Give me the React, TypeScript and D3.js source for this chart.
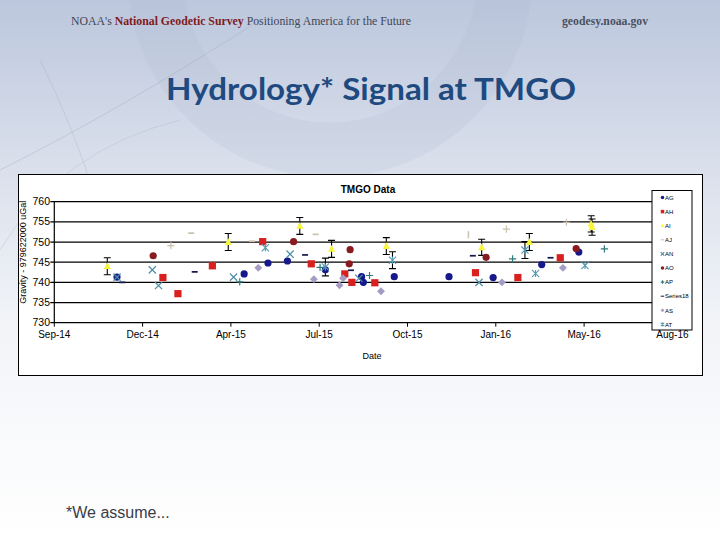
import React from 'react';
import * as d3 from 'd3';

const W = 720;
const H = 540;

// series in legend order (the Excel legend only shows the first ten)
const legendNames = ['AG', 'AH', 'AI', 'AJ', 'AN', 'AO', 'AP', 'Series18', 'AS', 'AT'];

const AG: [string, number][] = [
  ['2014-11-25', 741.3], ['2015-04-18', 742.1], ['2015-05-15', 744.8], ['2015-06-06', 745.3],
  ['2015-07-19', 743.1], ['2015-08-29', 741.4], ['2015-08-31', 740.0], ['2015-10-05', 741.4],
  ['2015-12-06', 741.4], ['2016-01-25', 741.2], ['2016-03-20', 744.4], ['2016-05-01', 747.5],
];
const AH: [string, number][] = [
  ['2015-01-16', 741.2], ['2015-02-02', 737.2], ['2015-03-13', 744.1], ['2015-05-09', 750.1],
  ['2015-07-03', 744.6], ['2015-08-10', 742.1], ['2015-08-18', 740.0], ['2015-09-13', 739.9],
  ['2016-01-05', 742.4], ['2016-02-22', 741.2], ['2016-04-10', 746.1],
];
const AI: [string, number][] = [
  ['2014-11-14', 744.0], ['2015-03-31', 750.0], ['2015-06-20', 754.0], ['2015-07-26', 748.3],
  ['2015-09-26', 749.0], ['2016-01-12', 748.7], ['2016-03-06', 750.0], ['2016-05-15', 754.5],
  ['2016-05-16', 753.7],
];
const AIerr = [2.1, 2.1, 2.1, 2.1, 2.1, 2.0, 2.1, 2.0, 2.0];
const AJ: [string, number][] = [['2015-02-17', 752.2], ['2015-04-27', 750.2], ['2015-07-08', 751.9]];
const AN: [string, number][] = [
  ['2014-11-25', 741.3], ['2015-01-04', 743.1], ['2015-01-11', 739.2], ['2015-04-06', 741.3],
  ['2015-06-09', 747.0], ['2015-08-26', 741.0], ['2016-01-09', 740.0],
];
const AO: [string, number][] = [
  ['2015-01-05', 746.6], ['2015-06-13', 750.1], ['2015-08-15', 744.6], ['2015-08-16', 748.1],
  ['2016-01-17', 746.2], ['2016-04-28', 748.4],
];
const AP: [string, number][] = [
  ['2015-04-13', 740.1], ['2015-07-13', 743.7], ['2015-09-07', 741.7], ['2016-02-16', 745.8],
  ['2016-05-30', 748.3],
];
const S18: [string, number][] = [
  ['2014-12-01', 740.0], ['2015-02-21', 742.6], ['2015-06-26', 746.8], ['2015-08-17', 743.0],
  ['2016-01-02', 746.6], ['2016-03-30', 746.1],
];
const AS: [string, number][] = [
  ['2015-05-04', 743.6], ['2015-07-06', 740.8], ['2015-08-04', 739.3], ['2015-08-08', 741.0],
  ['2015-09-20', 737.8], ['2016-02-04', 740.0], ['2016-04-13', 743.6],
];
const AT: [string, number][] = [
  ['2015-05-12', 748.6], ['2015-07-19', 743.8], ['2015-10-03', 745.5], ['2016-03-01', 748.0],
  ['2016-03-13', 742.2], ['2016-05-08', 744.2],
];
const ATerr = [0, 2.2, 2.1, 2.1, 0, 0];
// series that did not fit in the legend
const AU: [string, number][] = [['2015-01-25', 749.1], ['2016-02-09', 753.2], ['2016-04-17', 754.9]];
const AV: [string, number][] = [['2015-12-28', 751.8]];

const yTicks = [730, 735, 740, 745, 750, 755, 760];
const axisStart = '2014-09-15';
const tickStepDays = 100;
const tickCount = 8;

type Shape = 'circle' | 'square' | 'triangle' | 'diamond' | 'x' | 'plus' | 'dash' | 'star' | 'vbar';

const series: { name: string; data: [string, number][]; err?: number[]; shape: Shape; color: string }[] = [
  { name: 'AG', data: AG, shape: 'circle', color: '#16198a' },
  { name: 'AH', data: AH, shape: 'square', color: '#d8201f' },
  { name: 'AI', data: AI, err: AIerr, shape: 'triangle', color: '#f6f63c' },
  { name: 'AJ', data: AJ, shape: 'dash', color: '#c9c0ae' },
  { name: 'AN', data: AN, shape: 'x', color: '#4d8ea6' },
  { name: 'AO', data: AO, shape: 'circle', color: '#881a20' },
  { name: 'AP', data: AP, shape: 'plus', color: '#2e7b7c' },
  { name: 'Series18', data: S18, shape: 'dash', color: '#14184e' },
  { name: 'AS', data: AS, shape: 'diamond', color: '#a59cc3' },
  { name: 'AT', data: AT, err: ATerr, shape: 'star', color: '#5599b0' },
  { name: 'AU', data: AU, shape: 'plus', color: '#c9c0ae' },
  { name: 'AV', data: AV, shape: 'vbar', color: '#c9c0ae' },
];

const parse = d3.timeParse('%Y-%m-%d');
const fmt = d3.timeFormat('%b-%y');

function Marker({ shape, color, x, y, s }: { shape: Shape; color: string; x: number; y: number; s: number }) {
  const h = s / 2;
  switch (shape) {
    case 'circle':
      return <circle cx={x} cy={y} r={h} fill={color} />;
    case 'square':
      return <rect x={x - h} y={y - h} width={s} height={s} fill={color} />;
    case 'triangle':
      return <path d={`M${x},${y - h * 1.1}L${x + h},${y + h * 0.8}L${x - h},${y + h * 0.8}Z`} fill={color} />;
    case 'diamond':
      return <path d={`M${x},${y - h * 1.1}L${x + h * 1.1},${y}L${x},${y + h * 1.1}L${x - h * 1.1},${y}Z`} fill={color} />;
    case 'x':
      return <path d={`M${x - h},${y - h}L${x + h},${y + h}M${x - h},${y + h}L${x + h},${y - h}`} stroke={color} strokeWidth={1.2} />;
    case 'plus':
      return <path d={`M${x - h},${y}L${x + h},${y}M${x},${y - h}L${x},${y + h}`} stroke={color} strokeWidth={1.2} />;
    case 'dash':
      return <path d={`M${x - h},${y}L${x + h},${y}`} stroke={color} strokeWidth={Math.max(1, s / 3.5)} />;
    case 'star':
      return (
        <path
          d={`M${x - h},${y - h}L${x + h},${y + h}M${x - h},${y + h}L${x + h},${y - h}M${x},${y - h}L${x},${y + h}`}
          stroke={color}
          strokeWidth={1.1}
        />
      );
    case 'vbar':
      return <path d={`M${x},${y - h}L${x},${y + h}`} stroke={color} strokeWidth={1.5} />;
  }
  return null;
}

export default function App() {
  const start = parse(axisStart) as Date;
  const xTickValues = d3.range(tickCount).map((i) => d3.timeDay.offset(start, i * tickStepDays));
  const x = d3.scaleTime().domain([xTickValues[0], xTickValues[tickCount - 1]]).range([54.3, 672.4]);
  const y = d3.scaleLinear().domain([730, 760]).range([322.7, 201.7]);
  const [x0, x1] = x.range();

  const legX = 652;
  const legY = 190.5;
  const legStep = 14.1;

  return (
    <svg width={W} height={H} style={{ position: 'fixed', left: 0, top: 0, display: 'block' }}>
      <defs>
        <linearGradient id="bg" x1="0" y1="0" x2="0" y2="1">
          <stop offset="0" stopColor="#bcc7dd" />
          <stop offset="0.3" stopColor="#d9dfeb" />
          <stop offset="0.6" stopColor="#f2f4f8" />
          <stop offset="1" stopColor="#ffffff" />
        </linearGradient>
      </defs>
      <rect width={W} height={H} fill="url(#bg)" />
      {/* faint logo swirl behind the title */}
      <circle cx={330} cy={-25} r={175} fill="none" stroke="#aab5cf" strokeWidth={55} opacity={0.16} />
      <path d="M0,170 Q120,110 260,20" fill="none" stroke="#8f9ab0" strokeWidth={0.6} opacity={0.5} />
      <path d="M40,60 Q110,200 120,330" fill="none" stroke="#8f9ab0" strokeWidth={0.6} opacity={0.4} />
      <path d="M0,250 Q60,150 180,120" fill="none" stroke="#9aa4b8" strokeWidth={0.6} opacity={0.4} />

      <text x={71} y={25} fontFamily="Liberation Serif, serif" fontSize={12.5} textLength={340} lengthAdjust="spacingAndGlyphs" fill="#3f4656">
        NOAA's <tspan fill="#7f1b1b" fontWeight="bold">National Geodetic Survey</tspan> Positioning America for the Future
      </text>
      <text x={562} y={25} fontFamily="Liberation Serif, serif" fontSize={12.5} fontWeight="bold" textLength={86} lengthAdjust="spacingAndGlyphs" fill="#4a5060">
        geodesy.noaa.gov
      </text>
      <text x={371} y={100} textAnchor="middle" fontFamily="Lato, sans-serif" fontWeight="bold" fontSize={30} textLength={410} lengthAdjust="spacingAndGlyphs" fill="#1f4a80">
        Hydrology* Signal at TMGO
      </text>

      {/* chart frame */}
      <rect x={18.5} y={174.5} width={684} height={201} fill="#ffffff" stroke="#000" strokeWidth={1} />
      <g fontFamily="Liberation Sans, Arial, sans-serif" fill="#000">
        <text x={368} y={193} textAnchor="middle" fontSize={10} fontWeight="bold">TMGO Data</text>
        <text x={372} y={359} textAnchor="middle" fontSize={9}>Date</text>
        <text transform={`translate(26,${(y(760) + y(730)) / 2 - 10}) rotate(-90)`} textAnchor="middle" fontSize={9}>
          Gravity - 979622000 uGal
        </text>

        {yTicks.map((t) => (
          <g key={t}>
            <line x1={x0 - 4} x2={x1} y1={y(t)} y2={y(t)} stroke="#000" strokeWidth={1.2} />
            <text x={50} y={y(t) + 3.6} textAnchor="end" fontSize={10.5}>{t}</text>
          </g>
        ))}
        <line x1={x0} x2={x0} y1={y(760)} y2={y(730)} stroke="#000" strokeWidth={1.2} />
        {xTickValues.map((t, i) => (
          <g key={i}>
            <line x1={x(t)} x2={x(t)} y1={y(730)} y2={y(730) + 4} stroke="#000" strokeWidth={1} />
            <text x={x(t)} y={y(730) + 15} textAnchor="middle" fontSize={10}>{fmt(t)}</text>
          </g>
        ))}
      </g>

      {/* error bars, then markers */}
      {series.map((s) =>
        s.err
          ? s.data.map((d, i) => {
              const e = s.err![i];
              if (!e) return null;
              const cx = x(parse(d[0]) as Date);
              const top = y(d[1] + e);
              const bot = y(d[1] - e);
              return (
                <path
                  key={s.name + 'e' + i}
                  d={`M${cx},${top}L${cx},${bot}M${cx - 3.5},${top}L${cx + 3.5},${top}M${cx - 3.5},${bot}L${cx + 3.5},${bot}`}
                  stroke="#000"
                  strokeWidth={1.1}
                  fill="none"
                />
              );
            })
          : null
      )}
      {series.map((s) =>
        s.data.map((d, i) => (
          <Marker key={s.name + i} shape={s.shape} color={s.color} x={x(parse(d[0]) as Date)} y={y(d[1])} s={s.shape === 'dash' ? 6 : 7.2} />
        ))
      )}

      {/* legend */}
      <rect x={legX} y={legY} width={40} height={139.5} fill="#fff" stroke="#000" strokeWidth={1} />
      {legendNames.map((n, i) => {
        const s = series.find((q) => q.name === n)!;
        const ly = legY + 7 + i * legStep;
        return (
          <g key={n}>
            <Marker shape={s.shape} color={s.color} x={legX + 10.5} y={ly} s={3.5} />
            <text x={legX + 13} y={ly + 2.2} fontFamily="Liberation Sans, Arial, sans-serif" fontSize={6} fill="#000">{n}</text>
          </g>
        );
      })}

      <text x={66} y={518} fontFamily="Liberation Sans, Arial, sans-serif" fontSize={16} fill="#3a3d44">*We assume...</text>
    </svg>
  );
}
